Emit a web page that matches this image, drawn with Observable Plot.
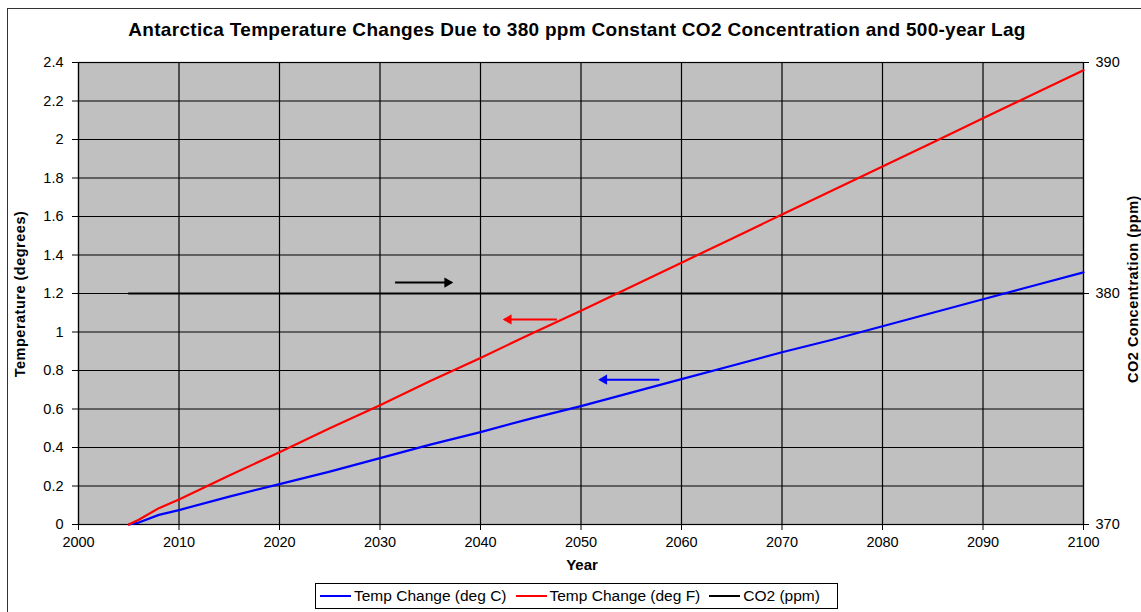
<!DOCTYPE html>
<html><head><meta charset="utf-8">
<script src="https://cdn.jsdelivr.net/npm/d3@7"></script>
<script src="https://cdn.jsdelivr.net/npm/@observablehq/plot@0.6"></script>
<style>
body{margin:0;background:#fff;font-family:"Liberation Sans",Arial,sans-serif;}
#wrap{position:relative;width:1141px;height:612px;overflow:hidden;background:#fff;}
#border{position:absolute;left:7px;top:8px;width:1200px;height:700px;border:1px solid #333;}
#chart{position:absolute;left:0;top:0;}
.lbl{position:absolute;font-weight:bold;color:#000;white-space:nowrap;}
#title{left:0;width:1154px;top:19px;text-align:center;font-size:19px;letter-spacing:0.3px;}
#xlabel{left:532px;width:100px;top:556px;text-align:center;font-size:15px;}
#ylabel{left:20px;top:294px;font-size:14.5px;letter-spacing:0.5px;transform:translate(-50%,-50%) rotate(-90deg);}
#y2label{left:1133px;top:289px;font-size:14.5px;letter-spacing:0.5px;transform:translate(-50%,-50%) rotate(-90deg);}
#legend{position:absolute;left:315px;top:583px;width:521px;height:24px;border:1px solid #000;display:flex;align-items:center;font-size:15.5px;background:#fff;}
.item{display:flex;align-items:center;margin-left:4px;margin-right:5px;}
.sw{width:31px;height:2px;margin-right:3px;}
</style>
</head><body>
<div id="wrap">
<div id="border"></div>
<div id="chart"></div>
<div class="lbl" id="title">Antarctica Temperature Changes Due to 380 ppm Constant CO2 Concentration and 500-year Lag</div>
<div class="lbl" id="xlabel">Year</div>
<div class="lbl" id="ylabel">Temperature (degrees)</div>
<div class="lbl" id="y2label">CO2 Concentration (ppm)</div>
<div id="legend"></div>
</div>
<script>
// ---- data ----
const years = [2005, 2006, 2008, 2010, 2015, 2020, 2025, 2030, 2035, 2040, 2045, 2050, 2055, 2060, 2065, 2070, 2075, 2080, 2085, 2090, 2095, 2100];
const tempC = [0, 0.01, 0.05, 0.075, 0.145, 0.21, 0.275, 0.345, 0.415, 0.48, 0.55, 0.615, 0.685, 0.755, 0.825, 0.895, 0.96, 1.03, 1.10, 1.17, 1.24, 1.31];
const tempF = [0, 0.025, 0.085, 0.13, 0.255, 0.375, 0.50, 0.62, 0.745, 0.865, 0.99, 1.11, 1.235, 1.36, 1.485, 1.61, 1.735, 1.86, 1.985, 2.11, 2.235, 2.36];
const co2Years = [2005, 2100];
const co2 = [380, 380];
const xTicks = [2000, 2010, 2020, 2030, 2040, 2050, 2060, 2070, 2080, 2090, 2100];
const yTicks = [0, 0.2, 0.4, 0.6, 0.8, 1, 1.2, 1.4, 1.6, 1.8, 2, 2.2, 2.4];
const co2Ticks = [370, 380, 390];
const seriesNames = ["Temp Change (deg C)", "Temp Change (deg F)", "CO2 (ppm)"];
const seriesColors = ["#0000ff", "#ff0000", "#000000"];
// annotation arrows (tail year, head year, level on temperature axis)
const arrowTail = [2031.5, 2047.6, 2057.8];
const arrowHead = [2037.1, 2042.4, 2051.9];
const arrowLevel = [1.257, 1.065, 0.752];
const arrowColors = ["#000000", "#ff0000", "#0000ff"];

// right axis mapping: 370..390 ppm onto 0..2.4
const co2Min = 370, co2Max = 390, yMax = 2.4;
const toLeft = v => (v - co2Min) / (co2Max - co2Min) * yMax;

const cData = years.map((y, i) => ({year: y, v: tempC[i]}));
const fData = years.map((y, i) => ({year: y, v: tempF[i]}));
const co2Data = co2Years.map((y, i) => ({year: y, v: toLeft(co2[i])}));
const arrows = arrowTail.map((t, i) => ({x1: t, x2: arrowHead[i], y: arrowLevel[i], c: arrowColors[i], dir: arrowHead[i] > t ? 1 : -1}));

const font = "Liberation Sans, Arial, sans-serif";
const plot = Plot.plot({
  width: 1141, height: 612,
  marginLeft: 78, marginRight: 58, marginTop: 62, marginBottom: 88,
  style: {background: "transparent", fontFamily: font, fontSize: "14.5px", color: "#000"},
  x: {domain: [2000, 2100]},
  y: {domain: [0, 2.4]},
  marks: [
    Plot.frame({fill: "#c0c0c0", stroke: null}),
    Plot.gridX(xTicks, {stroke: "#000", strokeOpacity: 1, strokeWidth: 1.2}),
    Plot.gridY(yTicks, {stroke: "#000", strokeOpacity: 1, strokeWidth: 1.2}),
    Plot.frame({stroke: "#000", strokeWidth: 1.2}),
    Plot.axisX(xTicks, {label: null, tickSize: 6, tickPadding: 6, tickFormat: d => String(d), fontSize: 14.5, stroke: "#000"}),
    Plot.axisY(yTicks, {anchor: "left", label: null, tickSize: 6, tickPadding: 9, tickFormat: d => String(d), fontSize: 14.5}),
    Plot.axisY(co2Ticks.map(toLeft), {anchor: "right", label: null, tickSize: 5, tickPadding: 7, fontSize: 14.5,
      tickFormat: d => String(co2Ticks.find(v => Math.abs(toLeft(v) - d) < 1e-9))}),
    Plot.line(co2Data, {x: "year", y: "v", stroke: seriesColors[2], strokeWidth: 2}),
    Plot.line(cData, {x: "year", y: "v", stroke: seriesColors[0], strokeWidth: 2.2}),
    Plot.line(fData, {x: "year", y: "v", stroke: seriesColors[1], strokeWidth: 2.2}),
    Plot.link(arrows, {x1: "x1", x2: "x2", y1: "y", y2: "y", stroke: "c", strokeWidth: 2}),
    Plot.dot(arrows.filter(a => a.dir > 0), {x: "x2", y: "y", fill: "c", stroke: null, symbol: "triangle", r: 3.8, rotate: 90, dx: -4}),
    Plot.dot(arrows.filter(a => a.dir < 0), {x: "x2", y: "y", fill: "c", stroke: null, symbol: "triangle", r: 3.8, rotate: -90, dx: 4})
  ]
});
document.getElementById("chart").appendChild(plot);

const legend = document.getElementById("legend");
seriesNames.forEach((n, i) => {
  const it = document.createElement("div");
  it.className = "item";
  const sw = document.createElement("div");
  sw.className = "sw";
  sw.style.background = seriesColors[i];
  const t = document.createElement("span");
  t.textContent = n;
  it.appendChild(sw); it.appendChild(t);
  legend.appendChild(it);
});
</script>
</body></html>
